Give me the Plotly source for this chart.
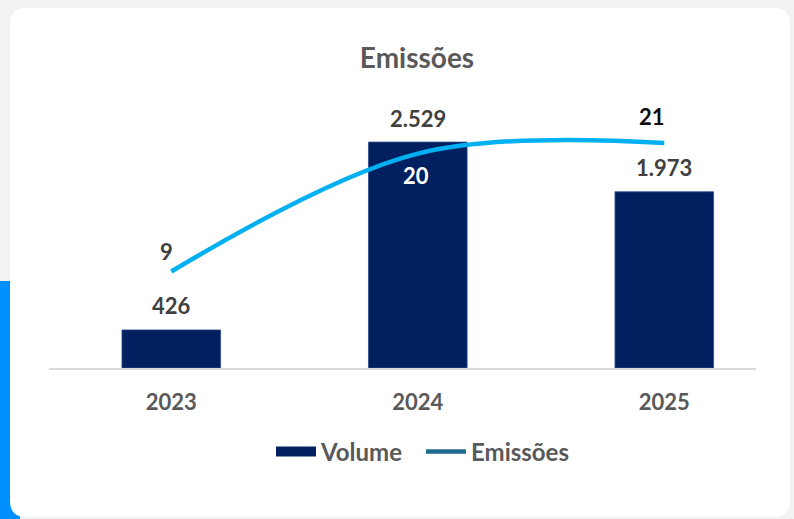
import plotly.graph_objects as go

categories = ["2023", "2024", "2025"]
volume = [426, 2529, 1973]
emissoes = [9, 20, 21]
title_text = "Emissões"

W, H = 794, 519
L, R, T, B = 49, 38, 100, 151
PW, PH = W - L - R, H - T - B
FONT = "Lato"
NAVY = "#002060"

def px(x):
    return (x - L) / PW

def py(y):
    return (H - B - y) / PH

fig = go.Figure()

fig.add_trace(go.Bar(
    x=categories, y=volume, name="Volume", width=0.4,
    marker=dict(color=NAVY, line=dict(color="#2F4B8C", width=0.8)),
    hoverinfo="skip", showlegend=False,
))
fig.add_trace(go.Scatter(
    x=categories, y=emissoes, name="Emissões", yaxis="y2", mode="lines",
    line=dict(color="#00B0F0", width=4.5, shape="spline", smoothing=1.0),
    showlegend=False, hoverinfo="skip",
))
# legend swatches
fig.add_trace(go.Scatter(
    x=[None], y=[None], name="Volume", mode="lines",
    line=dict(color=NAVY, width=15),
))
fig.add_trace(go.Scatter(
    x=[None], y=[None], name="Emissões", yaxis="y2", mode="lines",
    line=dict(color="#1F6A8E", width=4.5),
))

annotations = []
for i, v in enumerate(volume):
    annotations.append(dict(
        x=i, y=v, xref="x", yref="y", text=f"{v:,}".replace(",", "."),
        showarrow=False, yanchor="middle", yshift=24,
        font=dict(family=FONT, size=22, color="#404040", weight="bold"),
    ))
line_label_style = [
    dict(dx=-5, dy=20, color="#404040"),
    dict(dx=-2, dy=-22, color="#FFFFFF"),
    dict(dx=-12, dy=26, color="#0D0D0D"),
]
for i, (v, st) in enumerate(zip(emissoes, line_label_style)):
    annotations.append(dict(
        x=i, y=v, xref="x", yref="y2", text=str(v),
        showarrow=False, yanchor="middle", yshift=st["dy"], xshift=st["dx"],
        font=dict(family=FONT, size=22, color=st["color"], weight="bold"),
    ))

x0, x1, yt, yb, r = 10, 790, 8, 517, 16
rx, ry = r / PW, r / PH
card_path = (
    f"M {px(x0)+rx},{py(yt)} L {px(x1)-rx},{py(yt)} Q {px(x1)},{py(yt)} {px(x1)},{py(yt)-ry} "
    f"L {px(x1)},{py(yb)+ry} Q {px(x1)},{py(yb)} {px(x1)-rx},{py(yb)} "
    f"L {px(x0)+rx},{py(yb)} Q {px(x0)},{py(yb)} {px(x0)},{py(yb)+ry} "
    f"L {px(x0)},{py(yt)-ry} Q {px(x0)},{py(yt)} {px(x0)+rx},{py(yt)} Z"
)
shapes = [
    dict(type="rect", xref="paper", yref="paper", x0=px(0), x1=px(20), y0=py(H), y1=py(281),
         fillcolor="#0090FF", line=dict(width=0), layer="below"),
    dict(type="path", xref="paper", yref="paper", path=card_path,
         fillcolor="#FFFFFF", line=dict(width=0), layer="below"),
]

fig.update_layout(
    width=W, height=H,
    margin=dict(l=L, r=R, t=T, b=B, pad=0),
    paper_bgcolor="#F2F2F2", plot_bgcolor="rgba(0,0,0,0)",
    separators=",.",
    font=dict(family=FONT, color="#595959", weight="bold"),
    title=dict(text=title_text, x=417 / W, xanchor="center", y=1 - 58 / H, yanchor="middle",
               font=dict(family=FONT, size=28, color="#595959", weight="bold")),
    xaxis=dict(type="category", range=[-0.496, 2.372], showline=True, linecolor="#D9D9D9",
               linewidth=2, showgrid=False, zeroline=False, ticks="outside", ticklen=14,
               tickcolor="rgba(0,0,0,0)", tickfont=dict(family=FONT, size=22, color="#595959", weight="bold")),
    yaxis=dict(range=[0, 3000], visible=False, showgrid=False, zeroline=False),
    yaxis2=dict(range=[0, 25], overlaying="y", visible=False, showgrid=False, zeroline=False),
    legend=dict(orientation="h", x=px(421), xanchor="center", y=py(452), yanchor="middle",
                font=dict(family=FONT, size=24, color="#595959", weight="bold"),
                bgcolor="rgba(0,0,0,0)", traceorder="normal", itemwidth=40,
                entrywidth=95, entrywidthmode="pixels"),
    annotations=annotations,
    shapes=shapes,
    showlegend=True,
)

fig.write_html("out.html", config={"displayModeBar": False},
               post_script="document.body.style.margin='0';document.body.style.overflow='hidden';")
